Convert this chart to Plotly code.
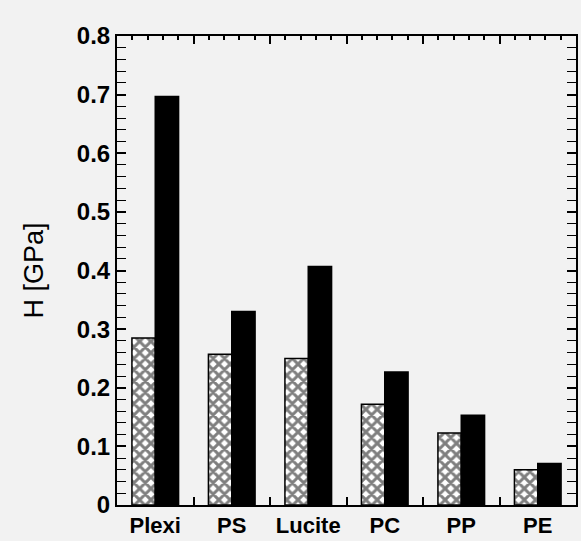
import plotly.graph_objects as go

categories = ["Plexi", "PS", "Lucite", "PC", "PP", "PE"]
hatched_values = [0.285, 0.257, 0.250, 0.172, 0.123, 0.060]
solid_values = [0.697, 0.330, 0.407, 0.227, 0.153, 0.071]
y_ticks = [0, 0.1, 0.2, 0.3, 0.4, 0.5, 0.6, 0.7, 0.8]
y_ticktext = ["0", "0.1", "0.2", "0.3", "0.4", "0.5", "0.6", "0.7", "0.8"]
frame_range = [-0.5, 5.5]
boundary_ticks = [-0.5, 0.5, 1.5, 2.5, 3.5, 4.5, 5.5]

W, H = 581, 541
L, R, T, B = 117, 3, 36, 34

fig = go.Figure()
fig.add_trace(go.Bar(
    x=categories, y=hatched_values, name="hatched",
    marker=dict(color="white", line=dict(color="black", width=1.5),
                pattern=dict(shape="x", fgcolor="black", bgcolor="white",
                             size=8, solidity=0.6)),
))
fig.add_trace(go.Bar(
    x=categories, y=solid_values, name="solid",
    marker=dict(color="black", line=dict(color="black", width=1.5)),
))
# invisible helpers so the top axis and the bottom boundary-tick axis are drawn
fig.add_trace(go.Scatter(x=frame_range, y=[0.4, 0.4], xaxis="x2", mode="markers",
                         marker=dict(opacity=0), hoverinfo="skip", showlegend=False))
fig.add_trace(go.Scatter(x=frame_range, y=[0.4, 0.4], xaxis="x3", mode="markers",
                         marker=dict(opacity=0), hoverinfo="skip", showlegend=False))

fig.update_layout(
    width=W, height=H,
    margin=dict(l=L, r=R, t=T, b=B, pad=0),
    paper_bgcolor="#f2f2f2",
    plot_bgcolor="#f2f2f2",
    showlegend=False,
    barmode="group",
    bargap=0.39,
    bargroupgap=0.0,
    font=dict(family="Liberation Sans, Arial, sans-serif", color="black"),
    xaxis=dict(
        type="category",
        range=frame_range,
        showline=True, linecolor="black", linewidth=2,
        ticks="",
        tickfont=dict(size=22, family="Liberation Sans, Arial", weight="bold"),
        showgrid=False, zeroline=False,
    ),
    xaxis2=dict(
        overlaying="x", side="top",
        range=frame_range,
        tick0=-0.5, dtick=1,
        showline=True, linecolor="black", linewidth=2,
        ticks="inside", ticklen=8, tickwidth=1.5, tickcolor="black",
        showticklabels=False, showgrid=False, zeroline=False,
        minor=dict(dtick=0.2, tick0=-0.5, ticks="inside", ticklen=4, tickwidth=1.5, tickcolor="black", showgrid=False),
    ),
    xaxis3=dict(
        overlaying="x", side="bottom", anchor="y",
        range=frame_range,
        tickmode="array", tickvals=boundary_ticks,
        showline=True, linecolor="black", linewidth=2,
        ticks="inside", ticklen=8, tickwidth=2, tickcolor="black",
        showticklabels=False, showgrid=False, zeroline=False,
    ),
    yaxis=dict(
        range=[0, 0.8],
        tickvals=y_ticks, ticktext=y_ticktext,
        ticksuffix="  ",
        showline=True, linecolor="black", linewidth=2, mirror="allticks",
        ticks="inside", ticklen=9, tickwidth=1.5, tickcolor="black",
        minor=dict(dtick=0.02, ticks="inside", ticklen=5, tickwidth=1.2, tickcolor="black", showgrid=False),
        tickfont=dict(size=24, family="Liberation Sans, Arial", weight="bold"),
        showgrid=False, zeroline=False,
        title=dict(text="H [GPa]", font=dict(size=27, family="Liberation Sans, Arial"), standoff=25),
    ),
)

fig.write_html("out.html")
